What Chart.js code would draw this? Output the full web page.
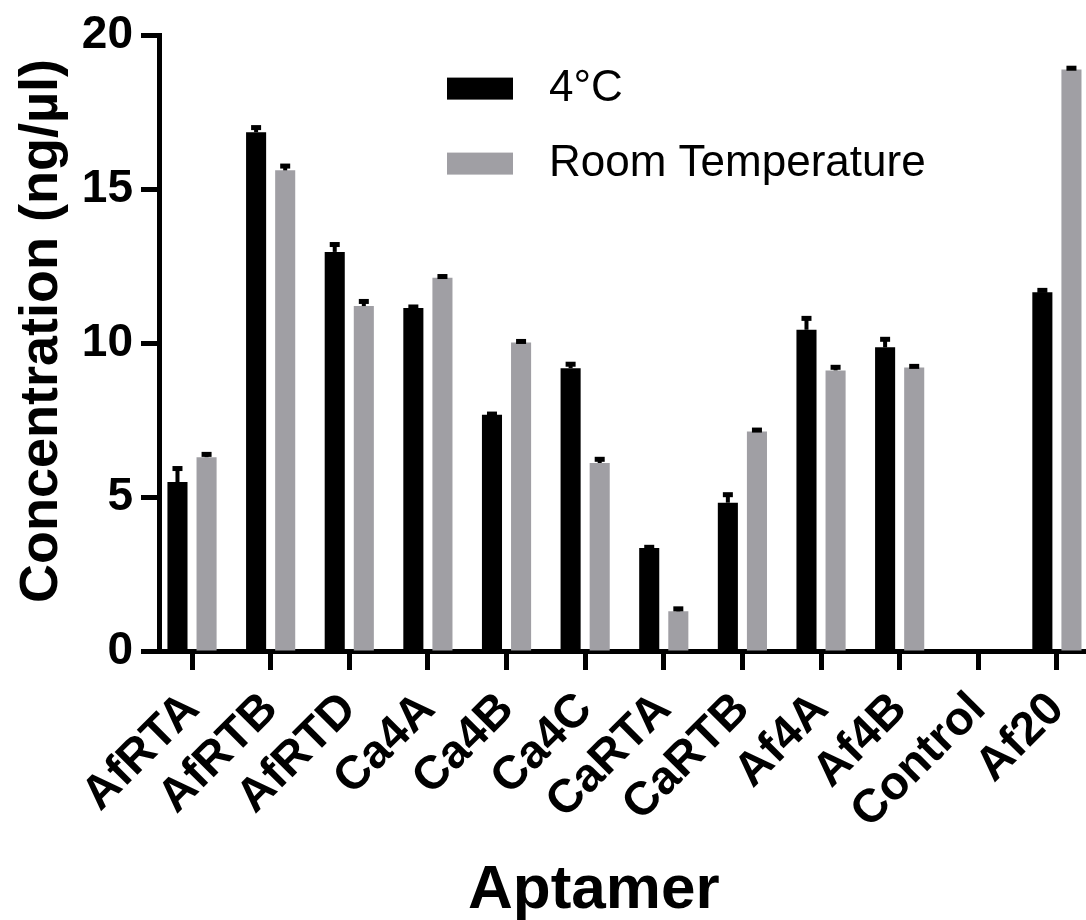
<!DOCTYPE html>
<html>
<head>
<meta charset="utf-8">
<script src="https://cdn.jsdelivr.net/npm/chart.js@4.4.1/dist/chart.umd.min.js"></script>
<style>
  html, body { margin: 0; padding: 0; background: #fff; overflow: hidden; }
  #wrap { position: relative; width: 1086px; height: 920px; }
</style>
</head>
<body>
<div id="wrap"><canvas id="chart"></canvas></div>
<script>
// aptamer names on the x axis
var aptamers = ["AfRTA", "AfRTB", "AfRTD", "Ca4A", "Ca4B", "Ca4C", "CaRTA", "CaRTB", "Af4A", "Af4B", "Control", "Af20"];
// mean concentration (ng/µl)
var cold4C = [5.49, 16.86, 12.97, 11.15, 7.68, 9.19, 3.35, 4.82, 10.44, 9.87, null, 11.66];
var roomTemp = [6.30, 15.62, 11.21, 12.13, 10.03, 6.11, 1.29, 7.13, 9.12, 9.21, null, 18.90];
// error (upper bar only)
var cold4CErr = [0.44, 0.15, 0.24, 0.03, 0.02, 0.13, 0.02, 0.26, 0.37, 0.26, null, 0.06];
var roomTempErr = [0.09, 0.14, 0.15, 0.04, 0.03, 0.12, 0.08, 0.05, 0.10, 0.04, null, 0.04];
var yTicks = [0, 5, 10, 15, 20];

var FONT = "'Liberation Sans', Arial, Helvetica, sans-serif";
var X_MIN = -0.42;
var X_MAX = 11.37;

function points(values) {
  return aptamers.map(function (name, i) {
    return { x: i, y: values[i] };
  });
}

// draws the upper error bars with caps
var errorBars = {
  id: "errorBars",
  afterDatasetsDraw: function (chart) {
    var ctx = chart.ctx;
    var yScale = chart.scales.y;
    chart.data.datasets.forEach(function (ds, d) {
      var meta = chart.getDatasetMeta(d);
      meta.data.forEach(function (bar, i) {
        var v = ds.data[i].y;
        var e = ds.errors[i];
        if (v == null || e == null) return;
        var top = yScale.getPixelForValue(v + e);
        ctx.save();
        ctx.fillStyle = "#000";
        ctx.fillRect(bar.x - 2, top, 4, bar.y - top);
        ctx.fillRect(bar.x - 5, top - 2.5, 10, 5);
        ctx.restore();
      });
    });
  },
};

// legend inside the plot area, stacked, plus both axis titles
var labelsPlugin = {
  id: "labelsPlugin",
  afterDraw: function (chart) {
    var ctx = chart.ctx;
    var area = chart.chartArea;
    var x0 = area.left + 288;
    var y0 = area.top + 53;
    chart.data.datasets.forEach(function (ds, d) {
      var y = y0 + d * 75;
      ctx.save();
      ctx.fillStyle = ds.backgroundColor;
      ctx.fillRect(x0, y - 11, 66, 22);
      ctx.fillStyle = "#000";
      ctx.font = "44px " + FONT;
      ctx.textBaseline = "middle";
      ctx.fillText(ds.label, x0 + 102, y);
      ctx.restore();
    });

    ctx.save();
    ctx.fillStyle = "#000";
    ctx.font = "bold 62px " + FONT;
    ctx.textAlign = "center";
    ctx.textBaseline = "alphabetic";
    ctx.fillText("Aptamer", area.left + (area.right - area.left) * 0.469, 908);
    ctx.restore();

    ctx.save();
    ctx.fillStyle = "#000";
    ctx.font = "bold 54px " + FONT;
    ctx.textAlign = "center";
    ctx.textBaseline = "middle";
    ctx.translate(42, area.top + (area.bottom - area.top) * 0.48);
    ctx.rotate(-Math.PI / 2);
    ctx.fillText("Concentration (ng/µl)", 0, 0);
    ctx.restore();
  },
};

var ctx = document.getElementById("chart").getContext("2d");
var chart = new Chart(ctx, {
  type: "bar",
  data: {
    datasets: [
      {
        label: "4°C",
        data: points(cold4C),
        errors: cold4CErr,
        backgroundColor: "#000000",
        borderWidth: 0,
      },
      {
        label: "Room Temperature",
        data: points(roomTemp),
        errors: roomTempErr,
        backgroundColor: "#a09fa4",
        borderWidth: 0,
      },
    ],
  },
  options: {
    responsive: true,
    maintainAspectRatio: false,
    animation: false,
    categoryPercentage: 0.74,
    barPercentage: 0.69,
    layout: { padding: { top: 31, right: 0, left: 0, bottom: 0 } },
    plugins: {
      legend: { display: false },
      tooltip: { enabled: false },
    },
    scales: {
      x: {
        type: "linear",
        offset: false,
        bounds: "data",
        min: X_MIN,
        max: X_MAX,
        afterBuildTicks: function (scale) {
          scale.min = X_MIN;
          scale.max = X_MAX;
          scale.ticks = aptamers.map(function (a, i) {
            return { value: i };
          });
        },
        afterFit: function (scale) {
          scale.height = 269;
          scale.paddingLeft = 0;
          scale.paddingRight = 0;
        },
        grid: {
          display: true,
          offset: false,
          drawOnChartArea: false,
          color: "#000",
          tickLength: 19,
          tickWidth: 5,
        },
        border: { display: true, color: "#000", width: 5 },
        ticks: {
          autoSkip: false,
          maxRotation: 45,
          minRotation: 45,
          padding: 12,
          color: "#000",
          font: { family: FONT, size: 47, weight: "bold" },
          callback: function (value) {
            return aptamers[value];
          },
        },
        title: { display: false },
      },
      y: {
        min: 0,
        max: 20,
        afterBuildTicks: function (scale) {
          scale.ticks = yTicks.map(function (v) {
            return { value: v };
          });
        },
        afterFit: function (scale) {
          scale.width = 159;
        },
        grid: {
          display: true,
          drawOnChartArea: false,
          color: "#000",
          tickLength: 18,
          tickWidth: 5,
        },
        border: { display: true, color: "#000", width: 5 },
        ticks: {
          padding: 8,
          color: "#000",
          font: { family: FONT, size: 46, weight: "bold" },
        },
        title: { display: false },
      },
    },
  },
  plugins: [errorBars, labelsPlugin],
});
</script>
</body>
</html>
